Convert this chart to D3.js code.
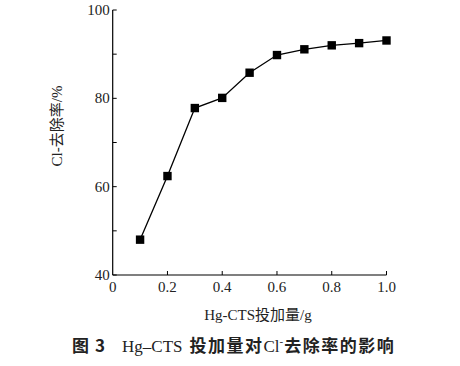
<!DOCTYPE html>
<html><head><meta charset="utf-8">
<script src="https://cdn.jsdelivr.net/npm/d3@7"></script>
<style>
html,body{margin:0;padding:0;background:#fff;}
svg{display:block;}
</style></head>
<body>
<svg id="c" width="460" height="366"></svg>
<script>
const doses = [0.1,0.2,0.3,0.4,0.5,0.6,0.7,0.8,0.9,1.0];
const removal = [48.0,62.4,77.8,80.1,85.8,89.8,91.1,92.0,92.5,93.1];
const xTicks = [0,0.2,0.4,0.6,0.8,1.0];
const xTickLabels = ["0","0.2","0.4","0.6","0.8","1.0"];
const yTicks = [40,60,80,100];
const yMinor = [50,70,90];

const svg = d3.select("#c");
const x = d3.scaleLinear().domain([0,1]).range([112.7,386.5]);
const y = d3.scaleLinear().domain([40,100]).range([275,10]);
const ff = '"Liberation Serif","DejaVu Serif",serif';
const cjk = '"Liberation Serif","Noto Sans CJK SC",serif';
const cjkB = '"Noto Sans CJK SC",sans-serif';

// axes lines
svg.append("line").attr("x1",x(0)).attr("x2",x(0)).attr("y1",y(100)).attr("y2",y(40)).attr("stroke","#000").attr("stroke-width",1.2);
svg.append("line").attr("x1",x(0)).attr("x2",x(1)).attr("y1",y(40)).attr("y2",y(40)).attr("stroke","#000").attr("stroke-width",1.2);

// x ticks (inward)
svg.selectAll(".xt").data(xTicks.slice(1)).enter().append("line")
  .attr("x1",d=>x(d)).attr("x2",d=>x(d)).attr("y1",y(40)).attr("y2",y(40)-4)
  .attr("stroke","#000").attr("stroke-width",1);
svg.selectAll(".xl").data(xTicks).enter().append("text")
  .attr("x",d=>x(d)).attr("y",y(40)+17).attr("text-anchor","middle")
  .attr("font-family",ff).attr("font-size",15).attr("fill","#222")
  .text((d,i)=>xTickLabels[i]);

// y ticks (inward)
svg.selectAll(".yt").data(yTicks.concat(yMinor)).enter().append("line")
  .attr("x1",x(0)).attr("x2",x(0)+4).attr("y1",d=>y(d)).attr("y2",d=>y(d))
  .attr("stroke","#000").attr("stroke-width",1);
svg.selectAll(".yl").data(yTicks).enter().append("text")
  .attr("x",x(0)-3).attr("y",d=>y(d)+5).attr("text-anchor","end")
  .attr("font-family",ff).attr("font-size",15).attr("fill","#222")
  .text(d=>d);

// line
svg.append("path").datum(doses.map((d,i)=>[d,removal[i]]))
  .attr("d",d3.line().x(d=>x(d[0])).y(d=>y(d[1])))
  .attr("fill","none").attr("stroke","#000").attr("stroke-width",1.3);
// markers
svg.selectAll(".m").data(doses).enter().append("rect")
  .attr("x",(d)=>x(d)-4.2).attr("y",(d,i)=>y(removal[i])-4.2)
  .attr("width",8.4).attr("height",8.4).attr("fill","#000");

// axis titles
svg.append("text").attr("x",258).attr("y",320).attr("text-anchor","middle")
  .attr("font-family",cjk).attr("font-size",15).attr("fill","#222")
  .text("Hg-CTS投加量/g");
svg.append("text").attr("transform","translate(62,126) rotate(-90)").attr("text-anchor","middle")
  .attr("font-family",cjk).attr("font-size",15).attr("fill","#222")
  .text("Cl-去除率/%");

// caption
const cap = svg.append("text").attr("x",72).attr("y",352).attr("font-size",17).attr("fill","#222");
cap.append("tspan").attr("font-family",cjkB).attr("font-weight","bold").text("图");
cap.append("tspan").attr("dx",6).attr("font-family",cjkB).attr("font-weight","bold").text("3");
cap.append("tspan").attr("dx",17).attr("font-family",ff).text("Hg–CTS");
cap.append("tspan").attr("dx",7).attr("font-family",cjkB).attr("font-weight","bold").attr("letter-spacing",1.5).text("投加量对");
cap.append("tspan").attr("font-family",ff).text("Cl");
cap.append("tspan").attr("font-family",ff).attr("font-size",11).attr("dy",-7).text("-");
cap.append("tspan").attr("dy",7).attr("dx",1).attr("font-family",cjkB).attr("font-weight","bold").attr("letter-spacing",1.5).text("去除率的影响");
</script>
</body></html>
